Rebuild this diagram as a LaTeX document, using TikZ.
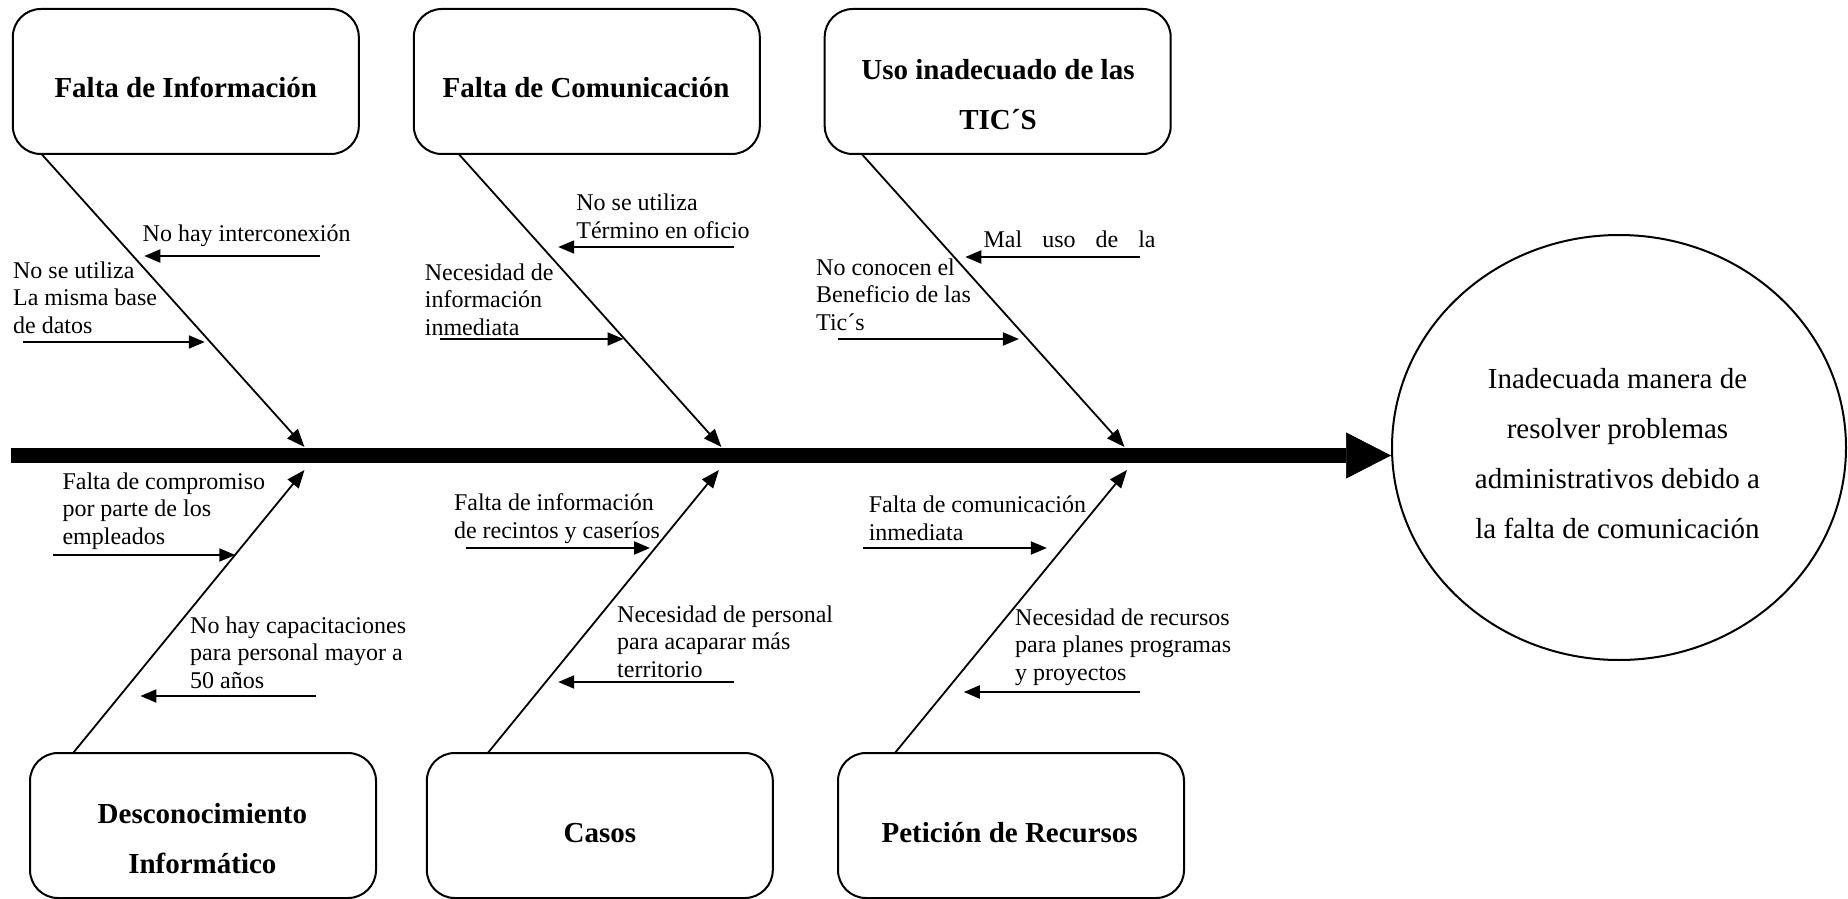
\documentclass[tikz,border=0pt]{standalone}
\usepackage{fontspec}
\setmainfont{Liberation Serif}
\usetikzlibrary{arrows.meta,shapes.geometric,calc}

\begin{document}
\begin{tikzpicture}[x=0.5pt,y=-0.5pt,
  causebox/.style={draw,line width=1pt,rounded corners=14pt,minimum width=173pt,
    minimum height=72.5pt,inner sep=0pt},
  % multi-line texts are placed by the baseline of their last line
  boxtitle/.style={anchor=base,align=center,inner sep=0pt,
    font=\fontsize{14.5pt}{25pt}\selectfont\bfseries},
  note/.style={anchor=base west,align=left,inner sep=0pt,
    font=\fontsize{12pt}{13.7pt}\selectfont},
  bone/.style={line width=0.9pt,-{Triangle[length=9pt,width=7pt]}},
  twig/.style={line width=1pt,-{Triangle[length=8pt,width=6.5pt]}},
]
\useasboundingbox (0,0) rectangle (1848,899);

% cause boxes, top row
\node[causebox] (b1) at (185.8,81.5) {};
\node[causebox] (b2) at (586.8,81.5) {};
\node[causebox] (b3) at (997.7,81.5) {};
% cause boxes, bottom row
\node[causebox] (b4) at (203,825.5) {};
\node[causebox] (b5) at (599.8,825.5) {};
\node[causebox] (b6) at (1011,825.5) {};

\node[boxtitle] (h1) at (185.8,98) {Falta de Información};
\node[boxtitle] (h2) at (586,98) {Falta de Comunicación};
\node[boxtitle] (h3) at (998,130) {Uso inadecuado de las\\TIC´S};
\node[boxtitle] (h4) at (202.4,873) {Desconocimiento\\Informático};
\node[boxtitle] (h5) at (600,842) {Casos};
\node[boxtitle] (h6) at (1009.7,842) {Petición de Recursos};

% effect
\node[draw,ellipse,line width=1pt,minimum width=227pt,minimum height=212.5pt,
  inner sep=0pt] (eff) at (1619,447.5) {};
\node[anchor=base,align=center,inner sep=0pt,
  font=\fontsize{14.5pt}{25pt}\selectfont] (efftext) at (1617.5,538)
  {Inadecuada manera de\\resolver problemas\\administrativos debido a\\la falta de comunicación};

% spine
\coordinate (sp0) at (10.7,455.5);
\draw[line width=7.5pt,-{Triangle[length=22.5pt,width=23pt,line width=0.3pt]}]
  (sp0) -- (sp0 -| eff.west);

% main bones
\coordinate (u1) at (41.5,154);   \coordinate (u1t) at (304.5,447);
\coordinate (u2) at (458.7,154);  \coordinate (u2t) at (721.4,447);
\coordinate (u3) at (861.7,154);  \coordinate (u3t) at (1124.5,447);
\coordinate (l1) at (73.1,753);   \coordinate (l1t) at (304.5,470);
\coordinate (l2) at (487.8,753);  \coordinate (l2t) at (718.9,470);
\coordinate (l3) at (894.9,753);  \coordinate (l3t) at (1127,470);
\draw[bone] (u1) -- (u1t);
\draw[bone] (u2) -- (u2t);
\draw[bone] (u3) -- (u3t);
\draw[bone] (l1) -- (l1t);
\draw[bone] (l2) -- (l2t);
\draw[bone] (l3) -- (l3t);

% sub-causes
\coordinate (a1) at (319.5,256);  \coordinate (a1t) at (144.3,256);
\coordinate (a2) at (22.9,342);   \coordinate (a2t) at (204.8,342);
\coordinate (a3) at (734.2,247);  \coordinate (a3t) at (558.2,247);
\coordinate (a4) at (439.8,339);  \coordinate (a4t) at (623.5,339);
\coordinate (a5) at (1139.8,257); \coordinate (a5t) at (965.3,257);
\coordinate (a6) at (837.8,339);  \coordinate (a6t) at (1018.9,339);
\coordinate (a7) at (52.6,555);   \coordinate (a7t) at (235.3,555);
\coordinate (a8) at (316.3,696);  \coordinate (a8t) at (140.4,696);
\coordinate (a9) at (466.3,548);  \coordinate (a9t) at (650,548);
\coordinate (a10) at (734.2,682); \coordinate (a10t) at (558.2,682);
\coordinate (a11) at (863.3,548); \coordinate (a11t) at (1046.9,548);
\coordinate (a12) at (1139.8,692);\coordinate (a12t) at (963.8,692);
\foreach \k in {1,...,12}{\draw[twig] (a\k) -- (a\k t);}

\node[note] (n1) at (142.3,242) {No hay interconexión};
\node[note] (n2) at (12.7,333) {No se utiliza\\La misma base\\de datos};
\node[note] (n3) at (576,238) {No se utiliza\\Término en oficio};
\node[note] (n4) at (424.5,335) {Necesidad de\\información\\inmediata};
\node[note] (n5) at (983.2,248) {\makebox[86pt][s]{Mal uso de la}};
\node[note] (n6) at (815.8,330) {No conocen el\\Beneficio de las\\Tic´s};
\node[note] (n7) at (62.1,544) {Falta de compromiso\\por parte de los\\empleados};
\node[note] (n8) at (189.8,688) {No hay capacitaciones\\para personal mayor a\\50 años};
\node[note] (n9) at (453.6,538) {Falta de información\\de recintos y caseríos};
\node[note] (n10) at (616.8,677) {Necesidad de personal\\para acaparar más\\territorio};
\node[note] (n11) at (868.4,540) {Falta de comunicación\\inmediata};
\node[note] (n12) at (1014.8,680) {Necesidad de recursos\\para planes programas\\y proyectos};
\end{tikzpicture}
\end{document}
